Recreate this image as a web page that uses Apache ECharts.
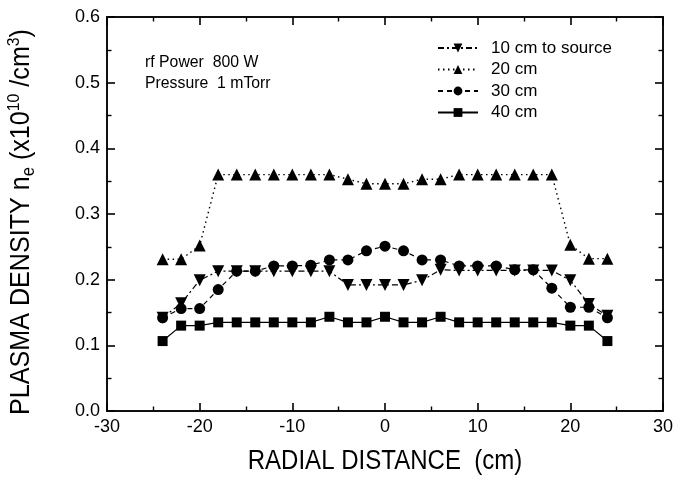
<!DOCTYPE html>
<html>
<head>
<meta charset="utf-8">
<script src="https://cdn.jsdelivr.net/npm/echarts@6/dist/echarts.min.js"></script>
<style>
  html, body { margin: 0; padding: 0; background: #fff; }
  #wrap { position: relative; width: 689px; height: 479px; }
  #frame, #main { position: absolute; left: 0; top: 0; width: 689px; height: 479px; }
</style>
</head>
<body>
<div id="wrap">
  <div id="frame"></div>
  <div id="main"></div>
</div>
<script>
// 数据 ---------------------------------------------
var radius = [-24, -22, -20, -18, -16, -14, -12, -10, -8, -6, -4, -2, 0,
              2, 4, 6, 8, 10, 12, 14, 16, 18, 20, 22, 24];
// 10 cm to source
var d10 = [0.142, 0.164, 0.199, 0.213, 0.213, 0.213, 0.213, 0.213, 0.213, 0.213, 0.192, 0.192, 0.192,
           0.192, 0.199, 0.215, 0.214, 0.214, 0.214, 0.214, 0.214, 0.214, 0.199, 0.163, 0.145];
// 20 cm
var d20 = [0.231, 0.231, 0.252, 0.360, 0.360, 0.360, 0.360, 0.360, 0.360, 0.360, 0.353, 0.346, 0.346,
           0.346, 0.353, 0.353, 0.360, 0.360, 0.360, 0.360, 0.360, 0.360, 0.253, 0.232, 0.232];
// 30 cm
var d30 = [0.142, 0.156, 0.156, 0.185, 0.213, 0.213, 0.221, 0.221, 0.222, 0.230, 0.230, 0.244, 0.251,
           0.244, 0.230, 0.230, 0.221, 0.221, 0.221, 0.215, 0.215, 0.187, 0.158, 0.158, 0.142];
// 40 cm
var d40 = [0.1065, 0.130, 0.130, 0.135, 0.135, 0.135, 0.135, 0.135, 0.135, 0.1435, 0.135, 0.135, 0.1435,
           0.135, 0.135, 0.1435, 0.135, 0.135, 0.135, 0.135, 0.135, 0.135, 0.130, 0.130, 0.1065];
var names = ['10 cm to source', '20 cm', '30 cm', '40 cm'];

var FONT = "'Liberation Sans', Arial, sans-serif";
var GRID = { left: 107, right: 26, top: 17, bottom: 68 };

function pairs(arr) {
    return radius.map(function (x, i) { return [x, arr[i]]; });
}

// 四边都带刻度的坐标轴
function axisStyle(extra, ticks) {
    return Object.assign({
        splitLine: { show: false },
        axisLine: { show: true, onZero: false, lineStyle: { color: '#000', width: 1.5 } },
        axisTick: { show: ticks, inside: true, length: 8, lineStyle: { color: '#000', width: 1.6 } },
        minorTick: { show: ticks, splitNumber: 2, length: 4.5, lineStyle: { color: '#000', width: 1.4 } }
    }, extra);
}

function axes(ticks, withLabels) {
    var lab = function (fmt) {
        if (!withLabels) return { show: false };
        var o = { color: '#000', fontSize: 18, margin: 7, fontFamily: FONT };
        if (fmt) o.formatter = fmt;
        return o;
    };
    return {
        xAxis: [
            axisStyle({ type: 'value', min: -30, max: 30, interval: 10, position: 'bottom', axisLabel: lab() }, ticks),
            axisStyle({ type: 'value', min: -30, max: 30, interval: 10, position: 'top', axisLabel: { show: false } }, ticks)
        ],
        yAxis: [
            axisStyle({ type: 'value', min: 0, max: 0.6, interval: 0.1, position: 'left',
                axisLabel: lab(function (v) { return v.toFixed(1); }) }, ticks),
            axisStyle({ type: 'value', min: 0, max: 0.6, interval: 0.1, position: 'right', axisLabel: { show: false } }, ticks)
        ]
    };
}

// 底层：只画边框和刻度（在完整图里刻度画不出来，单独放一个实例）
var frameChart = echarts.init(document.getElementById('frame'));
var frameAxes = axes(true, false);
frameChart.setOption({
    animation: false,
    backgroundColor: '#fff',
    grid: GRID,
    xAxis: frameAxes.xAxis,
    yAxis: frameAxes.yAxis,
    series: []
});

// 上层：数据、图例、文字，透明背景
var myChart = echarts.init(document.getElementById('main'));
var mainAxes = axes(false, true);
var option = {
    animation: false,
    backgroundColor: 'transparent',
    textStyle: { fontFamily: FONT },
    grid: GRID,
    xAxis: mainAxes.xAxis,
    yAxis: mainAxes.yAxis,
    legend: {
        orient: 'vertical',
        left: 432,
        top: 34,
        itemWidth: 40,
        itemHeight: 11,
        itemGap: 3.5,
        data: names,
        textStyle: { fontSize: 17, color: '#000', fontFamily: FONT, lineHeight: 18, padding: [0, 0, 0, 8] }
    },
    graphic: [
        {
            type: 'text', x: 22, y: 222, rotation: Math.PI / 2, scaleX: 0.93,
            style: {
                text: '{a|PLASMA DENSITY n}{sub|e}{a| (x10}{sup|10}{a| /cm}{sup|3}{a|)}',
                align: 'center', verticalAlign: 'middle', fill: '#000',
                rich: {
                    a: { fontSize: 27, fontFamily: FONT, fill: '#000' },
                    sub: { fontSize: 18, fontFamily: FONT, fill: '#000', padding: [14, 0, 0, 0] },
                    sup: { fontSize: 17, fontFamily: FONT, fill: '#000', padding: [0, 0, 16, 0] }
                }
            }
        },
        {
            type: 'text', x: 385, y: 462, scaleX: 0.89,
            style: {
                text: 'RADIAL DISTANCE  (cm)', fontSize: 27, fontFamily: FONT,
                fill: '#000', align: 'center', verticalAlign: 'middle'
            }
        },
        {
            type: 'text', x: 145, y: 54, scaleX: 0.93,
            style: { text: 'rf Power  800 W', fontSize: 17, fontFamily: FONT, fill: '#000', align: 'left', verticalAlign: 'top' }
        },
        {
            type: 'text', x: 145, y: 75, scaleX: 0.93,
            style: { text: 'Pressure  1 mTorr', fontSize: 17, fontFamily: FONT, fill: '#000', align: 'left', verticalAlign: 'top' }
        }
    ],
    series: [
        {
            name: names[0], type: 'line', data: pairs(d10),
            symbol: 'triangle', symbolRotate: 180, symbolSize: 12,
            itemStyle: { color: '#000' },
            lineStyle: { color: '#000', width: 1.2, type: [6, 3, 2, 3] }
        },
        {
            name: names[1], type: 'line', data: pairs(d20),
            symbol: 'triangle', symbolSize: 12,
            itemStyle: { color: '#000' },
            lineStyle: { color: '#000', width: 1.4, type: [1.5, 3.5] }
        },
        {
            name: names[2], type: 'line', data: pairs(d30),
            symbol: 'circle', symbolSize: 11,
            itemStyle: { color: '#000' },
            lineStyle: { color: '#000', width: 1.2, type: [5, 4] }
        },
        {
            name: names[3], type: 'line', data: pairs(d40),
            symbol: 'rect', symbolSize: 10,
            itemStyle: { color: '#000' },
            lineStyle: { color: '#000', width: 1.2, type: 'solid' }
        }
    ]
};
myChart.setOption(option);

window.onresize = function () {
    frameChart.resize();
    myChart.resize();
};
</script>
</body>
</html>
